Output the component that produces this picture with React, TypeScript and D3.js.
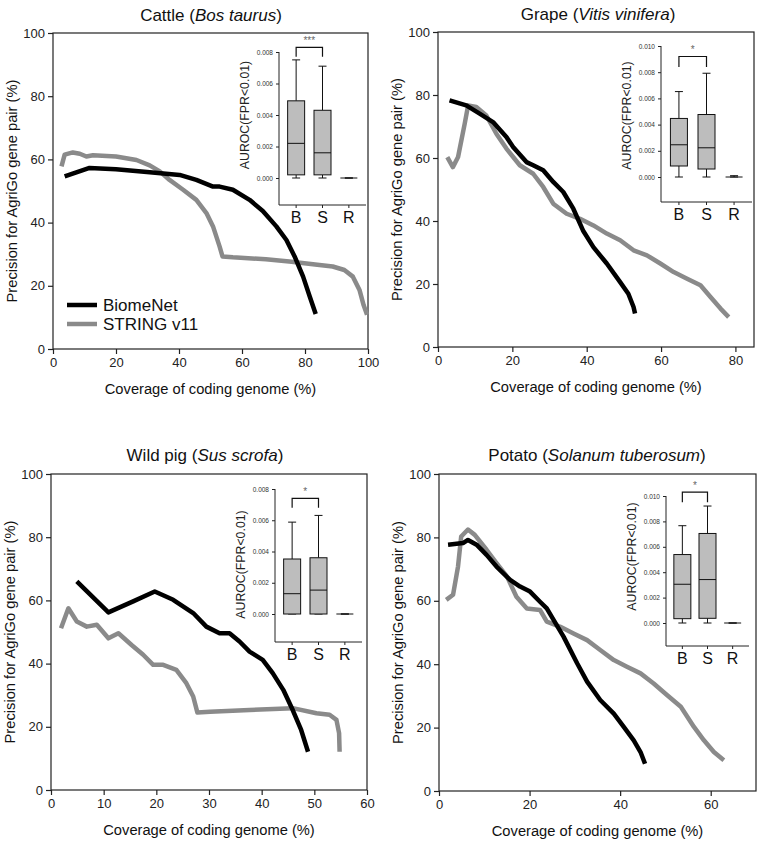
import React, { useRef, useEffect } from "react";
import * as d3 from "d3";

// precision curves: [coverage of coding genome %, precision %]
const cattleBiomeNet: [number, number][] = [
  [3.7, 54.6], [11.6, 57.3], [20, 56.9], [30.7, 55.9], [40.2, 55.1], [45.5, 53.5], [50.8, 51.4],
  [52.9, 51.4], [57.1, 50.4], [62.4, 47.2], [66.6, 43.7], [70.9, 38.8], [74.1, 34.5], [76.7, 29.3],
  [79.4, 22.9], [81.5, 16.6], [83.4, 11.1],
];
const cattleString: [number, number][] = [
  [2.7, 57.8], [3.7, 61.5], [6.3, 62.2], [8.5, 61.8], [10.6, 60.9], [12.7, 61.3], [20, 60.9],
  [26.5, 59.8], [30.7, 58.1], [33.9, 56.2], [37, 53.5], [41.3, 50.4], [45.5, 47.2], [48.7, 43],
  [50.8, 38.8], [52.9, 32.4], [53.8, 29.3], [57.1, 29], [67.6, 28.4], [75, 27.7], [84.6, 26.6],
  [88.8, 26.1], [92.5, 25], [95.2, 22.9], [97.3, 18.7], [98.6, 13.9], [99.7, 10.8],
];
const grapeBiomeNet: [number, number][] = [
  [3.1, 78.3], [7.6, 76.7], [11.2, 74.1], [14.8, 71.4], [18.4, 66.7], [20.2, 63.5], [23.8, 58.7],
  [25.6, 57.7], [28.3, 56.1], [31, 52.4], [33.7, 49.2], [36.4, 43.9], [39, 37], [41.8, 31.7],
  [45.4, 26.5], [49, 20.6], [51.2, 16.9], [52.6, 12.7], [53, 10.6],
];
const grapeString: [number, number][] = [
  [2.5, 60.3], [4, 57.1], [5.4, 60.3], [7.2, 71], [8.1, 76.7], [10.3, 76.2], [13, 73.5],
  [15.7, 67.7], [18.4, 63], [22, 57.7], [25.6, 55], [28.3, 50.8], [31, 45.5], [34.6, 42.3],
  [38.2, 40.7], [41.8, 38.6], [45.4, 36], [49, 33.9], [52.6, 30.7], [56.2, 29.1], [59.8, 26.5],
  [63.4, 23.8], [67, 21.7], [70.6, 19.6], [73.3, 15.9], [76, 12.2], [78.2, 9.5],
];
const pigBiomeNet: [number, number][] = [
  [4.9, 66], [10.9, 56.2], [15.6, 59.7], [19.7, 62.8], [23.2, 60.2], [27, 56], [29.5, 51.7],
  [32, 49.6], [33.9, 49.6], [35.8, 47], [37.7, 43.8], [40.2, 41.2], [42.1, 37], [44.1, 31.7],
  [45.9, 25.3], [47.5, 19], [48.8, 12.1],
];
const pigString: [number, number][] = [
  [1.9, 51.2], [3.3, 57.5], [4.9, 53.3], [6.8, 51.7], [8.7, 52.3], [10.9, 48], [12.8, 49.6],
  [15.3, 45.9], [17.5, 42.8], [19.4, 39.6], [21.3, 39.6], [23.8, 38], [25.7, 33.8], [27, 29.6],
  [27.8, 24.5], [30.2, 24.8], [37.7, 25.3], [45.9, 25.9], [50.4, 24.3], [52.9, 23.8], [54.2, 22.2],
  [54.7, 18], [54.8, 12.1],
];
const potatoBiomeNet: [number, number][] = [
  [2, 77.7], [5.3, 78.2], [6.4, 79.2], [8.3, 77.7], [10.5, 74.5], [12.7, 70.8], [15.7, 66.6],
  [17.9, 64.5], [20.1, 62.9], [22.3, 59.7], [23.8, 57.6], [25.3, 54], [27.5, 48.7], [30.5, 40.3],
  [32.7, 34.5], [35.6, 28.7], [38.6, 24.4], [40.8, 20.2], [43, 16], [44.5, 12.3], [45.5, 8.6],
];
const potatoString: [number, number][] = [
  [1.6, 60.3], [3.1, 61.9], [4.2, 70.8], [4.9, 80.3], [6.4, 82.5], [7.9, 80.8], [10.5, 76.1],
  [12.7, 71.9], [15, 67.7], [17.1, 61.3], [19.4, 57.6], [22.3, 57.1], [23.8, 53.4], [26.8, 51.8],
  [29.7, 49.7], [32.7, 47.6], [35.6, 44.5], [38.6, 41.3], [41.5, 39.2], [44.5, 37.1], [47.4, 33.9],
  [50.4, 30.2], [53.4, 26.6], [56.3, 20.2], [58.5, 16], [60.7, 12.3], [62.9, 9.7],
];

// inset boxplots of AUROC(FPR<0.01): B = BiomeNet, S = STRING, R = random
const boxLabels = ["B", "S", "R"];
const cattleBoxes = [
  { min: 0, q1: 0.0002, median: 0.0022, q3: 0.0049, max: 0.0075 },
  { min: 0, q1: 0.0002, median: 0.0016, q3: 0.0043, max: 0.0071 },
  { min: 0, q1: 0, median: 0, q3: 0, max: 0 },
];
const grapeBoxes = [
  { min: 0, q1: 0.00084, median: 0.00246, q3: 0.00447, max: 0.00652 },
  { min: 0, q1: 0.00061, median: 0.00223, q3: 0.00477, max: 0.00792 },
  { min: 0, q1: 0, median: 0, q3: 0, max: 0.0001 },
];
const pigBoxes = [
  { min: 0, q1: 0, median: 0.0013, q3: 0.00352, max: 0.00588 },
  { min: 0, q1: 0, median: 0.00153, q3: 0.0036, max: 0.00631 },
  { min: 0, q1: 0, median: 0, q3: 0, max: 0 },
];
const potatoBoxes = [
  { min: 0, q1: 0.00034, median: 0.00305, q3: 0.00539, max: 0.00766 },
  { min: 0, q1: 0.00037, median: 0.00342, q3: 0.00705, max: 0.00921 },
  { min: 0, q1: 0, median: 0, q3: 0, max: 0 },
];

const precisionTicks = [0, 20, 40, 60, 80, 100];
const seriesNames = ["BiomeNet", "STRING v11"];

const FONT = "'Liberation Sans', Arial, Helvetica, sans-serif";
const BLACK = "#000000";
const GRAY = "#8a8a8a";

const panels = [
  {
    name: "Cattle", species: "Bos taurus", titleX: 211, titleY: 21,
    frame: { x0: 53, x1: 368, y0: 33, y1: 349 }, xMax: 100, xTicks: [0, 20, 40, 60, 80, 100],
    biome: cattleBiomeNet, string: cattleString, legend: true,
    inset: { ax: 279, right: 366, top: 52, zero: 178, bottom: 205, max: 0.008, labelShift: 0 },
    boxes: cattleBoxes, stars: "***", bracket: [0.0083, 0.0077],
  },
  {
    name: "Grape", species: "Vitis vinifera", titleX: 598, titleY: 20,
    frame: { x0: 438, x1: 754, y0: 32, y1: 347 }, xMax: 85, xTicks: [0, 20, 40, 60, 80],
    biome: grapeBiomeNet, string: grapeString, legend: false,
    inset: { ax: 661, right: 752, top: 46, zero: 177, bottom: 202, max: 0.01, labelShift: 4 },
    boxes: grapeBoxes, stars: "*", bracket: [0.0092, 0.0084],
  },
  {
    name: "Wild pig", species: "Sus scrofa", titleX: 205, titleY: 461,
    frame: { x0: 51, x1: 367, y0: 474, y1: 790 }, xMax: 60, xTicks: [0, 10, 20, 30, 40, 50, 60],
    biome: pigBiomeNet, string: pigString, legend: false,
    inset: { ax: 275, right: 362, top: 489, zero: 614, bottom: 642, max: 0.008, labelShift: 13 },
    boxes: pigBoxes, stars: "*", bracket: [0.0074, 0.0068],
  },
  {
    name: "Potato", species: "Solanum tuberosum", titleX: 597, titleY: 461,
    frame: { x0: 439, x1: 756, y0: 474, y1: 791 }, xMax: 70, xTicks: [0, 20, 40, 60],
    biome: potatoBiomeNet, string: potatoString, legend: false,
    inset: { ax: 666, right: 749, top: 496, zero: 623, bottom: 646, max: 0.01, labelShift: -3 },
    boxes: potatoBoxes, stars: "*", bracket: [0.0103, 0.0095],
  },
];

const App = () => {
  const svgRef = useRef<SVGSVGElement>(null);

  useEffect(() => {
    const svg = d3.select(svgRef.current);
    svg.selectAll("*").remove();
    svg.append("rect").attr("width", 760).attr("height", 845).attr("fill", "#fff");

    panels.forEach((p) => {
      const g = svg.append("g").attr("font-family", FONT);
      const { x0, x1, y0, y1 } = p.frame;
      const x = d3.scaleLinear().domain([0, p.xMax]).range([x0, x1]);
      const y = d3.scaleLinear().domain([0, 100]).range([y1, y0]);

      // title with italic species name
      const title = g.append("text")
        .attr("x", p.titleX).attr("y", p.titleY)
        .attr("text-anchor", "middle").attr("font-size", 17).attr("fill", "#111");
      title.append("tspan").text(`${p.name} (`);
      title.append("tspan").attr("font-style", "italic").text(p.species);
      title.append("tspan").text(")");

      // axes
      const xAxis = g.append("g")
        .attr("transform", `translate(0, ${y1})`)
        .call(d3.axisBottom(x).tickValues(p.xTicks).tickSize(5).tickSizeOuter(0).tickPadding(4));
      const yAxis = g.append("g")
        .attr("transform", `translate(${x0}, 0)`)
        .call(d3.axisLeft(y).tickValues(precisionTicks).tickSize(5).tickSizeOuter(0).tickPadding(3));
      [xAxis, yAxis].forEach((a) => {
        a.select(".domain").remove();
        a.selectAll("line").attr("stroke", "#222").attr("stroke-width", 1.2);
        a.selectAll("text").attr("font-size", 13).attr("font-family", FONT).attr("fill", "#222");
      });

      g.append("rect")
        .attr("x", x0).attr("y", y0).attr("width", x1 - x0).attr("height", y1 - y0)
        .attr("fill", "none").attr("stroke", "#222").attr("stroke-width", 1.2);

      g.append("text")
        .attr("x", (x0 + x1) / 2).attr("y", y1 + 45)
        .attr("text-anchor", "middle").attr("font-size", 14.7).attr("fill", "#111")
        .text("Coverage of coding genome (%)");
      g.append("text")
        .attr("transform", `translate(${x0 - 36}, ${(y0 + y1) / 2}) rotate(-90)`)
        .attr("text-anchor", "middle").attr("font-size", 14.7).attr("fill", "#111")
        .text("Precision for AgriGo gene pair (%)");

      // curves
      const line = d3.line<[number, number]>().x((d) => x(d[0])).y((d) => y(d[1]));
      g.append("path").datum(p.string)
        .attr("d", line).attr("fill", "none").attr("stroke", GRAY)
        .attr("stroke-width", 4.5).attr("stroke-linejoin", "round");
      g.append("path").datum(p.biome)
        .attr("d", line).attr("fill", "none").attr("stroke", BLACK)
        .attr("stroke-width", 4.5).attr("stroke-linejoin", "round");

      if (p.legend) {
        [BLACK, GRAY].forEach((c, i) => {
          const ly = 305 + i * 19;
          g.append("line").attr("x1", 67).attr("x2", 97).attr("y1", ly).attr("y2", ly)
            .attr("stroke", c).attr("stroke-width", 4.5);
          g.append("text").attr("x", 103).attr("y", ly + 6)
            .attr("font-size", 17).attr("fill", "#111").text(seriesNames[i]);
        });
      }

      // inset boxplot
      const ins = p.inset;
      const iy = d3.scaleLinear().domain([0, ins.max]).range([ins.zero, ins.top]);
      const ix = d3.scalePoint<string>().domain(boxLabels).range([ins.ax, ins.right]).padding(0.65);
      const ig = g.append("g");

      const iAxis = ig.append("g")
        .attr("transform", `translate(${ins.ax}, 0)`)
        .call(d3.axisLeft(iy).tickValues(d3.range(0, ins.max + 1e-9, 0.002))
          .tickFormat(d3.format(".3f")).tickSize(3).tickSizeOuter(0).tickPadding(3));
      iAxis.select(".domain").remove();
      iAxis.selectAll("line").attr("stroke", "#222");
      iAxis.selectAll("text").attr("font-size", 6.5).attr("font-family", FONT).attr("fill", "#333");

      ig.append("line").attr("x1", ins.ax).attr("x2", ins.ax).attr("y1", ins.top).attr("y2", ins.bottom)
        .attr("stroke", "#222").attr("stroke-width", 1);
      ig.append("line").attr("x1", ins.ax).attr("x2", ins.right).attr("y1", ins.bottom).attr("y2", ins.bottom)
        .attr("stroke", "#222").attr("stroke-width", 1);

      ig.append("text")
        .attr("transform", `translate(${ins.ax - 30}, ${(ins.top + ins.zero) / 2 + ins.labelShift}) rotate(-90)`)
        .attr("text-anchor", "middle").attr("font-size", 12.3).attr("fill", "#222")
        .text("AUROC(FPR<0.01)");

      boxLabels.forEach((lab) => {
        const cx = ix(lab)!;
        ig.append("line").attr("x1", cx).attr("x2", cx).attr("y1", ins.bottom).attr("y2", ins.bottom + 3)
          .attr("stroke", "#222");
        ig.append("text").attr("x", cx).attr("y", ins.bottom + 18)
          .attr("text-anchor", "middle").attr("font-size", 16).attr("fill", "#111").text(lab);
      });

      const bw = 17;
      const cap = 8;
      p.boxes.forEach((b, i) => {
        const cx = ix(boxLabels[i])!;
        const bg = ig.append("g").attr("stroke", "#111").attr("stroke-width", 1);
        bg.append("line").attr("x1", cx).attr("x2", cx).attr("y1", iy(b.max)).attr("y2", iy(b.q3));
        bg.append("line").attr("x1", cx).attr("x2", cx).attr("y1", iy(b.q1)).attr("y2", iy(b.min));
        bg.append("line").attr("x1", cx - cap / 2).attr("x2", cx + cap / 2).attr("y1", iy(b.max)).attr("y2", iy(b.max));
        bg.append("line").attr("x1", cx - cap / 2).attr("x2", cx + cap / 2).attr("y1", iy(b.min)).attr("y2", iy(b.min));
        bg.append("rect")
          .attr("x", cx - bw / 2).attr("y", iy(b.q3)).attr("width", bw).attr("height", iy(b.q1) - iy(b.q3))
          .attr("fill", "#bdbdbd");
        bg.append("line").attr("x1", cx - bw / 2).attr("x2", cx + bw / 2).attr("y1", iy(b.median)).attr("y2", iy(b.median));
      });

      // significance bracket between B and S
      const bx = ix("B")!;
      const sx = ix("S")!;
      const [top, leg] = p.bracket;
      ig.append("path")
        .attr("d", `M${bx},${iy(leg)}V${iy(top)}H${sx}V${iy(leg)}`)
        .attr("fill", "none").attr("stroke", "#111").attr("stroke-width", 1.2);
      ig.append("text").attr("x", (bx + sx) / 2).attr("y", iy(top) - 3)
        .attr("text-anchor", "middle").attr("font-size", 10).attr("fill", "#666").text(p.stars);
    });
  }, []);

  return (
    <svg ref={svgRef} width={760} height={845} style={{ position: "absolute", left: 0, top: 0, display: "block" }} />
  );
};

export default App;
